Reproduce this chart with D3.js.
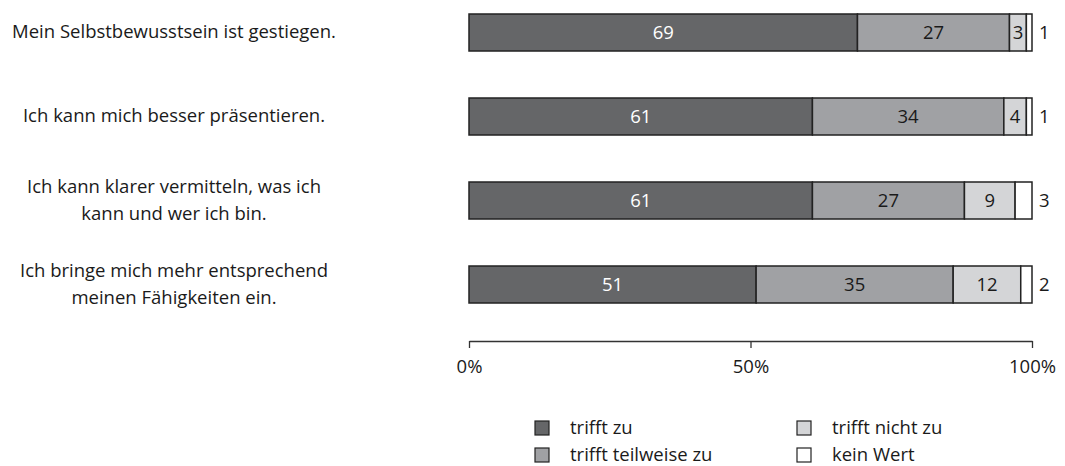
<!DOCTYPE html>
<html>
<head>
<meta charset="utf-8">
<script src="https://cdn.jsdelivr.net/npm/d3@7"></script>
<style>
  body { margin: 0; background: #fff; }
  text { font-family: "Open Sans", sans-serif; }
</style>
</head>
<body>
<div id="wrapper"></div>
<script>
const statements = [
  ["Mein Selbstbewusstsein ist gestiegen."],
  ["Ich kann mich besser präsentieren."],
  ["Ich kann klarer vermitteln, was ich", "kann und wer ich bin."],
  ["Ich bringe mich mehr entsprechend", "meinen Fähigkeiten ein."]
]
const seriesNames = ["trifft zu", "trifft teilweise zu", "trifft nicht zu", "kein Wert"]
const triffZu = [69, 61, 61, 51]
const teilweise = [27, 34, 27, 35]
const nichtZu = [3, 4, 9, 12]
const keinWert = [1, 1, 3, 2]
const tickValues = [0, 50, 100]

const colors = ["#656668", "#a0a1a4", "#d4d5d7", "#ffffff"]
const textColors = ["#ffffff", "#1a1a1a", "#1a1a1a", "#1a1a1a"]
const fontSize = "18.5px"

const dimensions = {
  width: 1065,
  height: 466,
  margin: { top: 14, right: 33, bottom: 0, left: 469 },
}
dimensions.boundedWidth = dimensions.width - dimensions.margin.left - dimensions.margin.right

const rows = statements.map((s, i) => ({
  label: s,
  values: [triffZu[i], teilweise[i], nichtZu[i], keinWert[i]]
}))

const stack = d3.stack().keys([0, 1, 2, 3]).value((d, k) => d.values[k])
const series = stack(rows)

const wrapper = d3.select("#wrapper")
  .append("svg")
  .attr("width", dimensions.width)
  .attr("height", dimensions.height)

const bounds = wrapper.append("g")
  .attr("transform", `translate(${dimensions.margin.left},${dimensions.margin.top})`)

const xScale = d3.scaleLinear().domain([0, 100]).range([0, dimensions.boundedWidth])
const barH = 37, step = 84
const yScale = d3.scaleBand()
  .domain(d3.range(rows.length))
  .range([0, (rows.length - 1) * step + barH])
  .paddingInner(1 - barH / step)
  .paddingOuter(0)

// bars
const layers = bounds.selectAll("g.layer")
  .data(series)
  .join("g")
  .attr("class", "layer")

layers.selectAll("rect")
  .data(d => d.map(p => ({ p, key: d.key })))
  .join("rect")
  .attr("x", d => xScale(d.p[0]))
  .attr("y", (d, i) => yScale(i))
  .attr("width", d => xScale(d.p[1]) - xScale(d.p[0]))
  .attr("height", yScale.bandwidth())
  .attr("fill", d => colors[d.key])
  .attr("stroke", "#222")
  .attr("stroke-width", 1.5)

// labels inside the segments
layers.filter(d => d.key < 3).selectAll("text")
  .data(d => d.map(p => ({ p, key: d.key })))
  .join("text")
  .attr("x", d => xScale((d.p[0] + d.p[1]) / 2))
  .attr("y", (d, i) => yScale(i) + yScale.bandwidth() / 2)
  .attr("dy", "0.35em")
  .attr("text-anchor", "middle")
  .attr("font-size", fontSize)
  .attr("fill", d => textColors[d.key])
  .text(d => d.p[1] - d.p[0])

// kein Wert label outside
bounds.selectAll("text.outside")
  .data(keinWert)
  .join("text")
  .attr("class", "outside")
  .attr("x", xScale(100) + 7)
  .attr("y", (d, i) => yScale(i) + yScale.bandwidth() / 2)
  .attr("dy", "0.35em")
  .attr("font-size", fontSize)
  .attr("fill", "#1a1a1a")
  .text(d => d)

// category labels
const catLabels = wrapper.selectAll("text.cat")
  .data(rows)
  .join("text")
  .attr("class", "cat")
  .attr("text-anchor", "middle")
  .attr("font-size", fontSize)
  .attr("fill", "#1a1a1a")
  .attr("transform", (d, i) => `translate(174,${dimensions.margin.top + yScale(i) + yScale.bandwidth() / 2})`)

catLabels.selectAll("tspan")
  .data(d => d.label.map((t, j) => ({ t, j, n: d.label.length })))
  .join("tspan")
  .attr("x", 0)
  .attr("y", d => (d.j - (d.n - 1) / 2) * 27)
  .attr("dy", "0.3em")
  .text(d => d.t)

// axis
const axisY = 341 - dimensions.margin.top
const xAxisGen = d3.axisBottom(xScale)
  .tickValues(tickValues)
  .tickSize(7)
  .tickSizeOuter(0)
  .tickFormat(d => d + "%")

const axis = bounds.append("g")
  .attr("transform", `translate(0,${axisY})`)
  .call(xAxisGen)
axis.select(".domain").attr("stroke", "#333").attr("stroke-width", 1.3)
axis.selectAll(".tick line").attr("stroke", "#333").attr("stroke-width", 1.3)
axis.selectAll(".tick text")
  .attr("y", 26)
  .attr("dy", "0.35em")
  .attr("font-size", fontSize)
  .attr("font-family", "'Open Sans', sans-serif")
  .attr("fill", "#1a1a1a")

// legend
const legendPos = [[535, 428], [535, 455], [797, 428], [797, 455]]
const legend = wrapper.selectAll("g.legend")
  .data([0, 1, 2, 3])
  .join("g")
  .attr("class", "legend")
  .attr("transform", (d, i) => `translate(${legendPos[i][0]},${legendPos[i][1]})`)

legend.append("rect")
  .attr("x", 0)
  .attr("y", -7)
  .attr("width", 14)
  .attr("height", 14)
  .attr("fill", d => colors[d])
  .attr("stroke", "#222")
  .attr("stroke-width", 1.2)

legend.append("text")
  .attr("x", 35)
  .attr("y", 0)
  .attr("dy", "0.35em")
  .attr("font-size", fontSize)
  .attr("fill", "#1a1a1a")
  .text(d => seriesNames[d])
</script>
</body>
</html>
